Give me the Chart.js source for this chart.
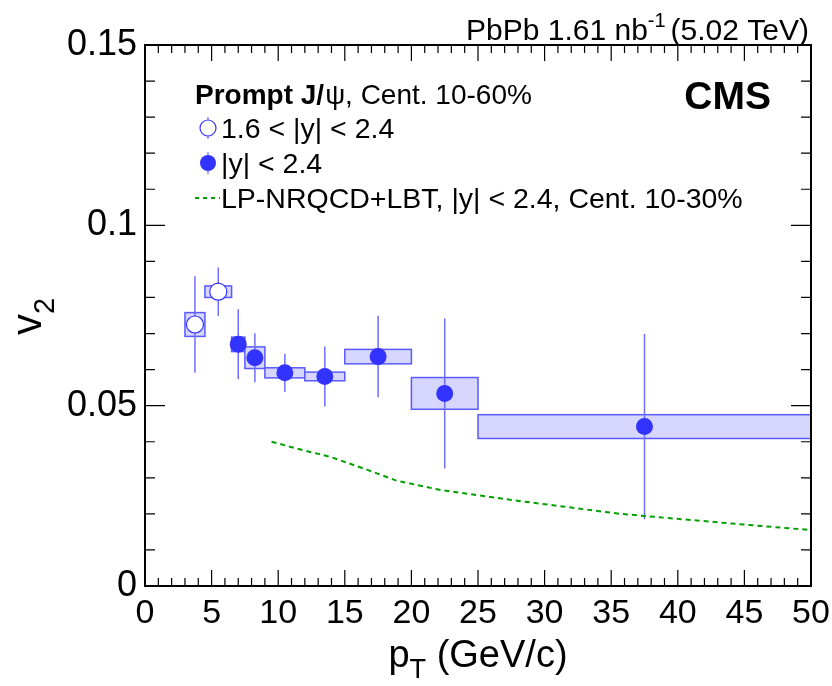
<!DOCTYPE html>
<html>
<head>
<meta charset="utf-8">
<script src="https://cdn.jsdelivr.net/npm/chart.js@4.4.0/dist/chart.umd.min.js"></script>
<style>
  html, body { margin: 0; padding: 0; background: #fff; }
  #wrap { width: 832px; height: 686px; }
</style>
</head>
<body>
<div id="wrap"><canvas id="c" width="832" height="686"></canvas></div>
<script>
// 1.6 < |y| < 2.4 (open circles)
const fwdPtLow = [3, 4.5];
const fwdPtHigh = [4.5, 6.5];
const fwdV2 = [0.0725, 0.0816];
const fwdStat = [0.0134, 0.0067];
const fwdSyst = [0.0033, 0.0016];

// |y| < 2.4 (filled circles)
const allPtLow = [6.5, 7.5, 9, 12, 15, 20, 25];
const allPtHigh = [7.5, 9, 12, 15, 20, 25, 50];
const allV2 = [0.0670, 0.0633, 0.0591, 0.0581, 0.0636, 0.0534, 0.0442];
const allStat = [0.0097, 0.0068, 0.0053, 0.0083, 0.0113, 0.0208, 0.0257];
const allSyst = [0.0020, 0.0030, 0.0014, 0.0012, 0.0020, 0.0044, 0.0033];

// LP-NRQCD+LBT curve
const modelPt = [9.5, 11.3, 14.0, 16.7, 18.9, 22.2, 27.6, 35.7, 43.8, 50];
const modelV2 = [0.0400, 0.0382, 0.0357, 0.0322, 0.0292, 0.0266, 0.0238, 0.0200, 0.0174, 0.0155];

// axes
const xTickValues = [0, 5, 10, 15, 20, 25, 30, 35, 40, 45, 50];
const xTickLabels = ["0", "5", "10", "15", "20", "25", "30", "35", "40", "45", "50"];
const yTickValues = [0, 0.05, 0.1, 0.15];
const yTickLabels = ["0", "0.05", "0.1", "0.15"];

const FONT = '"Liberation Sans", Arial, Helvetica, sans-serif';
const BLUE = "rgb(51,51,255)";
const ERR = "rgb(110,110,255)";
const BOX_FILL = "rgb(214,214,255)";
const BOX_LINE = "rgb(90,90,255)";
const GREEN = "rgb(0,160,0)";

Chart.defaults.font.family = FONT;
Chart.defaults.color = "#000";

const centers = (lo, hi) => lo.map((v, i) => (v + hi[i]) / 2);
const fwdPt = centers(fwdPtLow, fwdPtHigh);
const allPt = centers(allPtLow, allPtHigh);

function drawSeries(ctx, x, y, lo, hi, v, stat, syst) {
  // systematic boxes
  for (let i = 0; i < v.length; i++) {
    const x0 = x.getPixelForValue(lo[i]), x1 = x.getPixelForValue(hi[i]);
    const y0 = y.getPixelForValue(v[i] + syst[i]), y1 = y.getPixelForValue(v[i] - syst[i]);
    ctx.fillStyle = BOX_FILL;
    ctx.fillRect(x0, y0, x1 - x0, y1 - y0);
    ctx.strokeStyle = BOX_LINE;
    ctx.lineWidth = 1.5;
    ctx.strokeRect(x0, y0, x1 - x0, y1 - y0);
  }
  // stat error bars
  ctx.strokeStyle = ERR;
  ctx.lineWidth = 1.5;
  for (let i = 0; i < v.length; i++) {
    const xc = x.getPixelForValue((lo[i] + hi[i]) / 2);
    ctx.beginPath();
    ctx.moveTo(xc, y.getPixelForValue(v[i] + stat[i]));
    ctx.lineTo(xc, y.getPixelForValue(v[i] - stat[i]));
    ctx.stroke();
  }
}

function subText(ctx, main, sub, x, y, size, align) {
  ctx.font = size + "px " + FONT;
  const wMain = ctx.measureText(main.a).width;
  ctx.font = Math.round(size * 0.7) + "px " + FONT;
  const wSub = ctx.measureText(sub).width;
  ctx.font = size + "px " + FONT;
  const wRest = main.b ? ctx.measureText(main.b).width : 0;
  let sx = x;
  if (align === "center") sx = x - (wMain + wSub + wRest) / 2;
  ctx.textAlign = "left";
  ctx.textBaseline = "alphabetic";
  ctx.fillText(main.a, sx, y);
  ctx.font = Math.round(size * 0.7) + "px " + FONT;
  ctx.fillText(sub, sx + wMain, y + size * 0.3);
  ctx.font = size + "px " + FONT;
  if (main.b) ctx.fillText(main.b, sx + wMain + wSub, y);
}

const rootStyle = {
  id: "rootStyle",
  beforeDatasetsDraw(chart) {
    const { ctx, scales: { x, y } } = chart;
    ctx.save();
    drawSeries(ctx, x, y, fwdPtLow, fwdPtHigh, fwdV2, fwdStat, fwdSyst);
    drawSeries(ctx, x, y, allPtLow, allPtHigh, allV2, allStat, allSyst);
    ctx.restore();
  },
  afterDraw(chart) {
    const { ctx, chartArea: a, scales: { x, y } } = chart;
    ctx.save();
    // frame
    ctx.strokeStyle = "#000";
    ctx.lineWidth = 2;
    ctx.strokeRect(a.left, a.top, a.right - a.left, a.bottom - a.top);
    // ticks
    ctx.lineWidth = 1.2;
    ctx.beginPath();
    for (let t = 0; t <= 50; t++) {
      const px = x.getPixelForValue(t);
      const len = t % 5 === 0 ? 16 : 8;
      ctx.moveTo(px, a.bottom); ctx.lineTo(px, a.bottom - len);
      ctx.moveTo(px, a.top); ctx.lineTo(px, a.top + len);
    }
    for (let t = 0; t <= 15; t++) {
      const py = y.getPixelForValue(t / 100);
      const len = t % 5 === 0 ? 20 : 10;
      ctx.moveTo(a.left, py); ctx.lineTo(a.left + len, py);
      ctx.moveTo(a.right, py); ctx.lineTo(a.right - len, py);
    }
    ctx.stroke();

    ctx.fillStyle = "#000";
    // axis titles
    subText(ctx, { a: "p", b: " (GeV/c)" }, "T", 478, 667, 38, "center");
    ctx.save();
    ctx.translate(41, 335);
    ctx.rotate(-Math.PI / 2);
    subText(ctx, { a: "v" }, "2", 0, 0, 42, "left");
    ctx.restore();

    // top label
    ctx.textBaseline = "alphabetic";
    ctx.font = "30px " + FONT;
    const tail = "(5.02 TeV)";
    const head = "PbPb 1.61 nb";
    const wTail = ctx.measureText(tail).width;
    ctx.font = "20px " + FONT;
    const wSup = ctx.measureText("-1").width;
    ctx.font = "30px " + FONT;
    const wHead = ctx.measureText(head).width;
    let sx = 809 - wTail - wSup - 5 - wHead;
    ctx.textAlign = "left";
    ctx.fillText(head, sx, 40);
    ctx.font = "20px " + FONT;
    ctx.fillText("-1", sx + wHead, 27);
    ctx.font = "30px " + FONT;
    ctx.fillText(tail, sx + wHead + wSup + 5, 40);

    // CMS
    ctx.font = "bold 39px " + FONT;
    ctx.textAlign = "right";
    ctx.fillText("CMS", 771, 109);

    // legend
    ctx.textAlign = "left";
    ctx.font = "bold 28px " + FONT;
    ctx.fillText("Prompt J/", 195, 104);
    let w = ctx.measureText("Prompt J/").width;
    ctx.font = "28px " + FONT;
    ctx.fillText("\u03c8", 195 + w + 1, 104);
    w += ctx.measureText("\u03c8").width + 1;
    ctx.fillText(", Cent. 10-60%", 195 + w, 104);

    ctx.font = "28.5px " + FONT;
    ctx.fillText("1.6 < |y| < 2.4", 221, 138);
    ctx.fillText("|y| < 2.4", 221, 173);
    ctx.fillText("LP-NRQCD+LBT, |y| < 2.4, Cent. 10-30%", 221, 208);

    ctx.strokeStyle = ERR;
    ctx.lineWidth = 1.2;
    ctx.beginPath();
    ctx.moveTo(208, 117); ctx.lineTo(208, 139);
    ctx.moveTo(208, 152); ctx.lineTo(208, 174);
    ctx.stroke();
    ctx.beginPath();
    ctx.arc(208, 128, 8, 0, Math.PI * 2);
    ctx.fillStyle = "#fff"; ctx.fill();
    ctx.strokeStyle = BLUE; ctx.lineWidth = 1.2; ctx.stroke();
    ctx.beginPath();
    ctx.arc(208, 163, 8, 0, Math.PI * 2);
    ctx.fillStyle = BLUE; ctx.fill();
    ctx.strokeStyle = GREEN; ctx.lineWidth = 2;
    ctx.setLineDash([4, 4]);
    ctx.beginPath();
    ctx.moveTo(195, 198); ctx.lineTo(220, 198);
    ctx.stroke();
    ctx.restore();
  }
};

new Chart(document.getElementById("c"), {
  type: "scatter",
  data: {
    datasets: [
      {
        type: "line",
        label: "LP-NRQCD+LBT",
        data: modelPt.map((p, i) => ({ x: p, y: modelV2[i] })),
        borderColor: GREEN,
        borderWidth: 2,
        borderDash: [5, 4],
        pointRadius: 0,
        fill: false,
        tension: 0
      },
      {
        label: "1.6 < |y| < 2.4",
        data: fwdPt.map((p, i) => ({ x: p, y: fwdV2[i] })),
        pointStyle: "circle",
        pointRadius: 8.5,
        pointBackgroundColor: "#fff",
        pointBorderColor: BLUE,
        pointBorderWidth: 1.2
      },
      {
        label: "|y| < 2.4",
        data: allPt.map((p, i) => ({ x: p, y: allV2[i] })),
        pointStyle: "circle",
        pointRadius: 8.5,
        pointBackgroundColor: BLUE,
        pointBorderColor: BLUE,
        pointBorderWidth: 0
      }
    ]
  },
  options: {
    responsive: false,
    animation: false,
    devicePixelRatio: 1,
    layout: { padding: { left: 0, right: 21, top: 45, bottom: 0 } },
    plugins: { legend: { display: false }, tooltip: { enabled: false } },
    scales: {
      x: {
        type: "linear",
        min: 0,
        max: 50,
        grid: { display: false, drawTicks: false },
        border: { display: false },
        afterFit(s) { s.height = 100; s.paddingLeft = 0; s.paddingRight = 0; },
        afterBuildTicks(s) { s.ticks = xTickValues.map(v => ({ value: v })); },
        ticks: {
          font: { size: 34 },
          padding: 7,
          maxRotation: 0,
          autoSkip: false,
          callback: (v) => xTickLabels[xTickValues.indexOf(v)]
        }
      },
      y: {
        type: "linear",
        min: 0,
        max: 0.15,
        grid: { display: false, drawTicks: false },
        border: { display: false },
        afterFit(s) { s.width = 145; s.paddingTop = 0; s.paddingBottom = 0; },
        afterBuildTicks(s) { s.ticks = yTickValues.map(v => ({ value: v })); },
        ticks: {
          font: { size: 36 },
          padding: 8,
          autoSkip: false,
          callback: (v) => yTickLabels[yTickValues.indexOf(v)]
        }
      }
    }
  },
  plugins: [rootStyle]
});
</script>
</body>
</html>
